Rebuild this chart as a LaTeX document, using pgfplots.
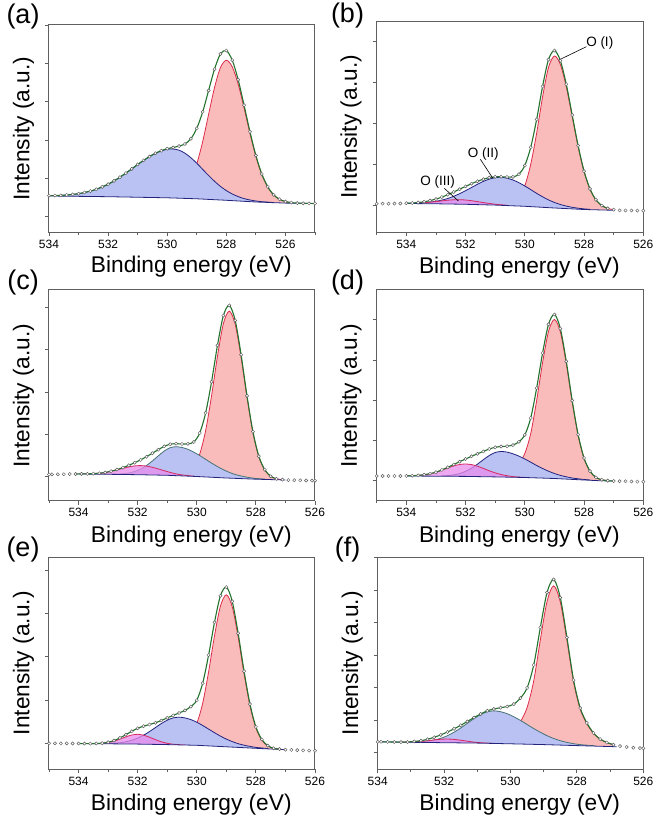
\documentclass[border=0pt]{standalone}
\usepackage{pgfplots}
\pgfplotsset{compat=1.18}
\usepackage{pgfplotstable}
\usepackage{fontspec}
\setmainfont{Liberation Sans}

\definecolor{rline}{RGB}{222,45,75}
\definecolor{rfill}{RGB}{250,187,187}
\definecolor{bfill}{RGB}{186,194,244}
\definecolor{bline}{RGB}{35,35,125}
\definecolor{tline}{RGB}{70,115,115}
\definecolor{pfill}{RGB}{232,140,235}
\definecolor{pline}{RGB}{215,40,95}
\definecolor{gline}{RGB}{35,115,45}
\definecolor{frame}{RGB}{95,95,95}

\pgfplotsset{
 xps/.style={
  scale only axis, axis on top, x dir=reverse, ymin=0,
  xtick={526,528,530,532,534}, minor xtick={525,527,529,531,533,535},
  xtick pos=left, ytick pos=left, tick align=outside,
  major tick length=4pt, minor tick length=2.5pt,
  yticklabels={},
  axis line style={draw=frame, line width=1pt},
  tick style={draw=frame, line width=0.8pt},
  tick label style={font=\fontsize{12}{12}\selectfont},
  /pgf/number format/assume math mode=true,
  xlabel={Binding energy (eV)}, ylabel={Intensity (a.u.)},
  label style={font=\fontsize{22.7}{24}\selectfont},
  xlabel style={at={(axis description cs:0.535,-0.167)}, anchor=center},
  ylabel style={at={(axis description cs:-0.096,0.5)}, anchor=center},
 },
 env/.style={smooth, draw=gline, line width=1.1pt},
 dat/.style={only marks, mark=*, mark size=1.6pt, mark options={draw=black!65, fill=white, line width=0.45pt}},
 rc/.style={smooth, draw=rline, fill=rfill, line width=0.8pt},
 bc/.style={smooth, draw=bline, fill=bfill, line width=0.8pt},
 tc/.style={smooth, draw=tline, fill=bfill, line width=0.8pt},
 pc/.style={smooth, draw=pline, fill=pfill, fill opacity=0.75, line width=0.8pt},
 wf/.style={fill=white, draw=none},
 bl/.style={draw=bline, line width=0.8pt},
}

% ---------------- panel (a) ----------------
\pgfplotstableread{
x y
534.0 36.6
533.8 36.7
533.6 36.9
533.4 37.3
533.2 37.9
533.0 38.6
532.8 39.8
532.6 41.2
532.4 43.0
532.2 45.4
532.0 48.1
531.8 51.4
531.6 55.1
531.4 59.2
531.2 63.4
531.0 67.8
530.8 71.9
530.6 75.7
530.4 79.0
530.2 81.6
530.0 83.6
529.8 84.8
529.6 86.2
529.4 88.3
529.2 93.5
529.0 104.0
528.8 120.4
528.6 141.8
528.4 163.1
528.2 178.3
528.0 181.7
527.8 172.1
527.6 152.6
527.4 127.1
527.2 100.5
527.0 76.8
526.8 58.3
526.6 45.6
526.4 37.5
526.2 33.0
526.0 30.7
525.8 29.7
525.6 29.2
525.4 29.0
525.2 28.9
525.0 28.8
}\TEa
\pgfplotstableread{
x y
530.0 35.1
529.8 35.8
529.6 38.2
529.4 43.1
529.2 52.6
529.0 68.4
528.8 90.7
528.6 117.9
528.4 144.7
528.2 164.7
528.0 172.0
527.8 165.5
527.6 148.2
527.4 124.4
527.2 98.8
527.0 75.8
526.8 57.8
526.6 45.3
526.4 37.4
526.2 33.0
526.0 30.7
525.8 29.7
}\TRa
\pgfplotstableread{
x y
534.0 36.6
533.8 36.7
533.6 36.9
533.4 37.3
533.2 37.9
533.0 38.6
532.8 39.8
532.6 41.2
532.4 43.0
532.2 45.4
532.0 48.1
531.8 51.4
531.6 55.1
531.4 59.2
531.2 63.4
531.0 67.8
530.8 71.9
530.6 75.7
530.4 79.0
530.2 81.4
530.0 83.0
529.8 83.3
529.6 82.1
529.4 79.1
529.2 74.6
529.0 69.1
528.8 62.9
528.6 56.8
528.4 51.0
528.2 45.9
528.0 41.7
527.8 38.3
527.6 35.7
527.4 33.7
527.2 32.3
527.0 31.3
526.8 30.6
526.6 30.2
526.4 29.7
}\TUa
\pgfplotstableread{
x y
534.0 36.3
533.0 35.95
532.0 35.6
531.0 35.05
530.0 34.5
529.5 34.0
529.0 33.5
528.5 32.75
528.0 32.0
527.5 31.15
527.0 30.3
526.5 29.75
526.0 29.2
525.0 28.8
}\TLa

% ---------------- panel (b) ----------------
\pgfplotstableread{
x y
535.0 28.5
534.8 28.6
534.6 28.6
534.4 28.7
534.2 28.8
534.0 29.1
533.8 29.3
533.6 29.8
533.4 30.5
533.2 31.7
533.0 33.2
532.8 35.2
532.6 37.6
532.4 40.3
532.2 43.1
532.0 45.9
531.8 48.6
531.6 51.0
531.4 53.1
531.2 54.7
531.0 55.5
530.8 55.5
530.6 55.3
530.4 55.4
530.2 58.1
530.0 66.8
529.8 85.0
529.6 112.9
529.4 145.9
529.2 172.7
529.0 181.8
528.8 171.6
528.6 148.0
528.4 117.3
528.2 86.6
528.0 61.2
527.8 43.4
527.6 32.5
527.4 26.7
527.2 23.9
527.0 22.6
526.8 21.9
526.6 21.8
526.4 21.8
526.2 21.7
526.0 21.6
}\TEb
\pgfplotstableread{
x y
530.6 27.6
530.4 29.5
530.2 34.7
530.0 46.5
529.8 68.0
529.6 99.3
529.4 135.4
529.2 164.9
529.0 176.3
528.8 167.8
528.6 145.5
528.4 115.7
528.2 85.6
528.0 60.6
527.8 43.1
527.6 32.5
527.4 26.7
527.2 23.9
527.0 22.6
}\TRb
\pgfplotstableread{
x y
534.0 29.0
533.8 29.0
533.6 29.3
533.4 29.6
533.2 30.2
533.0 31.0
532.8 32.2
532.6 33.8
532.4 36.0
532.2 38.6
532.0 41.6
531.8 44.8
531.6 48.0
531.4 50.9
531.2 53.2
531.0 54.6
530.8 55.0
530.6 54.1
530.4 52.3
530.2 49.6
530.0 46.3
529.8 42.7
529.6 38.9
529.4 35.5
529.2 32.4
529.0 29.8
528.8 27.8
528.6 26.2
528.4 25.0
528.2 24.1
528.0 23.4
527.8 22.9
}\TUb
\pgfplotstableread{
x y
533.8 29.0
533.6 29.2
533.4 29.5
533.2 30.1
533.0 30.7
532.8 31.4
532.6 32.1
532.4 32.5
532.2 32.6
532.0 32.3
531.8 31.6
531.6 30.7
531.4 29.7
531.2 28.9
531.0 28.1
530.8 27.5
530.6 27.0
}\TPb
\pgfplotstableread{
x y
535.0 28.5
534.0 28.8
533.0 28.5
532.0 28.0
531.0 27.2
530.0 26.0
529.0 24.3
528.0 22.8
527.0 22.0
526.0 21.6
}\TLb

% ---------------- panel (c) ----------------
\pgfplotstableread{
x y
535.0 26.5
534.9 26.6
534.7 26.7
534.5 26.8
534.3 26.9
534.1 27.0
533.9 27.1
533.7 27.1
533.5 27.4
533.3 27.8
533.1 28.5
532.9 29.8
532.7 31.4
532.5 33.4
532.3 35.7
532.1 38.3
531.9 41.1
531.7 44.3
531.5 47.8
531.3 51.3
531.1 54.7
530.9 56.8
530.7 57.3
530.5 57.0
530.3 57.2
530.1 59.0
529.9 68.0
529.7 88.1
529.5 119.2
529.3 155.6
529.1 185.4
528.9 195.6
528.7 180.6
528.5 146.2
528.3 105.1
528.1 69.3
527.9 44.8
527.7 31.3
527.5 24.7
527.3 22.2
527.1 21.4
526.9 20.9
526.7 20.8
526.5 20.7
526.3 20.5
526.1 20.4
526.0 20.3
}\TEc
\pgfplotstableread{
x y
530.9 26.1
530.7 26.5
530.5 27.6
530.3 29.9
530.1 34.6
529.9 46.9
529.7 70.5
529.5 105.1
529.3 144.7
529.1 177.3
528.9 189.9
528.7 176.7
528.5 143.6
528.3 103.5
528.1 68.3
527.9 44.2
527.7 31.0
527.5 24.7
527.3 22.2
527.1 21.4
}\TRc
\pgfplotstableread{
x y
532.9 26.8
532.7 26.9
532.5 27.3
532.3 28.0
532.1 29.5
531.9 31.9
531.7 35.5
531.5 40.1
531.3 45.2
531.1 50.0
530.9 53.3
530.7 54.3
530.5 53.5
530.3 51.7
530.1 48.8
529.9 45.5
529.7 41.7
529.5 37.9
529.3 34.4
529.1 31.3
528.9 28.6
528.7 26.5
528.5 25.0
528.3 23.8
528.1 22.9
527.9 22.3
527.7 21.9
}\TUc
\pgfplotstableread{
x y
533.9 27.1
533.7 27.1
533.5 27.4
533.3 27.8
533.1 28.5
532.9 29.7
532.7 31.1
532.5 32.6
532.3 34.1
532.1 35.1
531.9 35.4
531.7 34.9
531.5 33.7
531.3 32.0
531.1 30.3
530.9 28.6
530.7 27.1
530.5 26.1
530.3 25.4
530.1 24.8
}\TPc
\pgfplotstableread{
x y
535.0 26.5
534.0 27.0
533.0 26.7
532.0 26.3
531.0 25.7
530.0 24.5
529.0 23.0
528.0 21.8
527.0 21.0
526.0 20.3
}\TLc

% ---------------- panel (d) ----------------
\pgfplotstableread{
x y
535.0 25.0
534.8 25.0
534.6 25.0
534.4 25.0
534.2 25.0
534.0 25.1
533.8 25.3
533.6 25.6
533.4 26.3
533.2 27.3
533.0 28.8
532.8 31.1
532.6 33.7
532.4 36.5
532.2 39.3
532.0 42.0
531.8 44.7
531.6 47.2
531.4 49.6
531.2 52.0
531.0 53.7
530.8 54.5
530.6 54.8
530.4 55.9
530.2 59.2
530.0 66.1
529.8 83.0
529.6 112.9
529.4 147.9
529.2 176.6
529.0 186.5
528.8 172.4
528.6 139.6
528.4 100.4
528.2 66.4
528.0 43.0
527.8 29.9
527.6 23.6
527.4 21.2
527.2 20.4
527.0 19.9
526.8 19.8
526.6 19.7
526.4 19.5
526.2 19.4
526.0 19.3
}\TEd
\pgfplotstableread{
x y
530.4 31.7
530.2 37.6
530.0 47.5
529.8 67.5
529.6 100.5
529.4 138.3
529.2 169.5
529.0 181.5
528.8 169.0
528.6 137.3
528.4 99.0
528.2 65.5
528.0 42.5
527.8 29.6
527.6 23.6
527.4 21.2
527.2 20.4
}\TRd
\pgfplotstableread{
x y
532.8 25.1
532.6 25.4
532.4 26.1
532.2 27.4
532.0 29.6
531.8 32.8
531.6 36.8
531.4 41.3
531.2 45.5
531.0 48.5
530.8 49.5
530.6 48.9
530.4 47.2
530.2 44.9
530.0 42.0
529.8 38.8
529.6 35.5
529.4 32.5
529.2 29.8
529.0 27.5
528.8 25.6
528.6 24.2
528.4 23.0
528.2 22.2
528.0 21.5
527.8 21.0
}\TUd
\pgfplotstableread{
x y
534.0 25.1
533.8 25.3
533.6 25.6
533.4 26.3
533.2 27.3
533.0 28.8
532.8 30.8
532.6 33.0
532.4 35.1
532.2 36.5
532.0 37.0
531.8 36.4
531.6 34.8
531.4 32.6
531.2 30.2
531.0 28.1
530.8 26.5
530.6 25.3
530.4 24.4
530.2 23.9
530.0 23.6
}\TPd
\pgfplotstableread{
x y
535.0 25.0
534.0 25.0
532.0 24.6
531.0 24.1
530.0 23.5
529.0 22.5
528.0 21.0
527.5 20.3
527.0 19.9
526.0 19.3
}\TLd

% ---------------- panel (e) ----------------
\pgfplotstableread{
x y
535.0 26.0
534.8 26.0
534.6 25.9
534.4 25.9
534.2 25.8
534.0 25.8
533.8 25.7
533.6 25.7
533.4 25.8
533.2 26.1
533.0 27.1
532.8 28.7
532.6 31.4
532.4 34.6
532.2 38.0
532.0 41.0
531.8 43.1
531.6 44.8
531.4 46.5
531.2 48.8
531.0 51.4
530.8 53.9
530.6 56.3
530.4 58.9
530.2 62.7
530.0 69.1
529.8 86.1
529.6 114.2
529.4 147.0
529.2 173.5
529.0 182.2
528.8 168.0
528.6 136.0
528.4 98.1
528.2 65.2
528.0 42.4
527.8 29.8
527.6 23.7
527.4 21.0
527.2 20.2
527.0 19.6
526.8 19.4
526.6 19.2
526.4 18.9
526.2 18.7
526.0 18.5
}\TEe
\pgfplotstableread{
x y
530.4 31.8
530.2 37.1
530.0 46.0
529.8 66.0
529.6 97.4
529.4 133.5
529.2 163.1
529.0 174.5
528.8 162.5
528.6 132.3
528.4 95.6
528.2 63.6
528.0 41.5
527.8 29.2
527.6 23.4
527.4 21.0
527.2 20.2
}\TRe
\pgfplotstableread{
x y
533.0 25.8
532.8 26.0
532.6 26.6
532.4 27.5
532.2 29.0
532.0 31.2
531.8 34.1
531.6 37.7
531.4 41.7
531.2 45.7
531.0 49.1
530.8 51.4
530.6 52.1
530.4 51.4
530.2 49.7
530.0 47.1
529.8 43.8
529.6 40.2
529.4 36.6
529.2 33.2
529.0 30.2
528.8 27.7
528.6 25.6
528.4 24.1
528.2 22.9
528.0 21.9
527.8 21.3
527.6 20.7
}\TUe
\pgfplotstableread{
x y
533.6 25.7
533.4 25.8
533.2 26.1
533.0 26.8
532.8 28.1
532.6 30.2
532.4 32.4
532.2 34.3
532.0 35.0
531.8 34.1
531.6 32.1
531.4 29.7
531.2 27.5
531.0 26.0
530.8 25.1
530.6 24.6
530.4 24.3
}\TPe
\pgfplotstableread{
x y
535.0 26.0
534.0 25.8
533.0 25.5
532.0 25.2
531.0 24.7
530.0 24.0
529.0 22.5
528.0 21.0
527.0 19.6
526.0 18.5
}\TLe

% ---------------- panel (f) ----------------
\pgfplotstableread{
x y
534.0 27.5
533.9 27.5
533.7 27.4
533.5 27.3
533.3 27.2
533.1 27.3
532.9 27.9
532.7 28.6
532.5 30.0
532.3 32.0
532.1 34.4
531.9 37.3
531.7 40.5
531.5 44.0
531.3 47.8
531.1 51.7
530.9 55.3
530.7 58.5
530.5 60.3
530.3 61.6
530.1 62.8
529.9 65.2
529.7 71.2
529.5 81.4
529.3 104.3
529.1 141.9
528.9 176.7
528.7 189.8
528.5 171.7
528.3 131.8
528.1 89.2
527.9 61.3
527.7 46.4
527.5 36.3
527.3 30.2
527.1 26.8
526.9 24.6
526.7 23.2
526.5 22.3
526.3 21.6
526.1 21.2
526.0 21.0
}\TEf
\pgfplotstableread{
x y
530.1 32.8
529.9 38.1
529.7 47.6
529.5 61.7
529.3 88.5
529.1 129.7
528.9 167.7
528.7 183.4
528.5 167.3
528.3 128.9
528.1 87.4
527.9 60.2
527.7 45.7
527.5 35.9
527.3 30.2
527.1 26.8
526.9 24.6
}\TRf
\pgfplotstableread{
x y
532.9 27.4
532.7 27.6
532.5 28.2
532.3 29.3
532.1 31.0
531.9 33.6
531.7 37.1
531.5 41.3
531.3 46.0
531.1 50.7
530.9 54.8
530.7 57.5
530.5 58.4
530.3 57.6
530.1 55.6
529.9 52.5
529.7 48.9
529.5 44.8
529.3 40.7
529.1 37.0
528.9 33.6
528.7 30.8
528.5 28.6
528.3 26.9
528.1 25.6
527.9 24.7
527.7 24.1
527.5 23.6
}\TUf
\pgfplotstableread{
x y
533.3 27.2
533.1 27.3
532.9 27.5
532.7 27.9
532.5 28.6
532.3 29.4
532.1 30.0
531.9 30.3
531.7 29.9
531.5 29.1
531.3 28.1
531.1 27.2
530.9 26.6
530.7 26.2
530.5 25.9
}\TPf
\pgfplotstableread{
x y
534.0 27.5
533.0 27.0
532.0 26.6
531.0 26.2
530.0 25.5
529.0 24.7
528.0 23.7
527.0 22.75
526.8 22.55
526.0 21.0
}\TLf

\begin{document}
\begin{tikzpicture}[x=1pt,y=1pt]
\path[use as bounding box] (0,0) rectangle (662,822);

% (a)
\begin{axis}[xps, at={(49pt,589.7pt)}, anchor=south west, width=266pt, height=207.3pt,
  xmin=525, xmax=534, ymax=207.3, ytick={15.7,54,92.3,130.7,169,207.3}]
\addplot[rc] table {\TRa} \closedcycle;
\addplot[bc] table {\TUa} \closedcycle;
\addplot[wf] table {\TLa} \closedcycle;
\addplot[bl] table {\TLa};
\addplot[env] table {\TEa};
\addplot[dat] table {\TEa};
\end{axis}

% (b)
\begin{axis}[xps, at={(376.7pt,589.7pt)}, anchor=south west, width=266.6pt, height=210.6pt,
  xmin=526, xmax=535, ymax=210.6, ytick={26.6,67.6,108.6,149.6,190.6}]
\addplot[rc] table {\TRb} \closedcycle;
\addplot[bc] table {\TUb} \closedcycle;
\addplot[pc] table {\TPb} \closedcycle;
\addplot[wf] table {\TLb} \closedcycle;
\addplot[bl, restrict x to domain=527:534] table {\TLb};
\addplot[env, restrict x to domain=527.2:534] table {\TEb};
\addplot[dat] table {\TEb};
\node[font=\fontsize{13.5}{14}\selectfont] at (axis cs:527.47,189.6) {O (I)};
\draw[black, line width=0.6pt] (axis cs:527.92,185.6) -- (axis cs:528.85,172.3);
\node[font=\fontsize{13.5}{14}\selectfont] at (axis cs:531.4,78.3) {O (II)};
\draw[black, line width=0.6pt] (axis cs:531.5,73) -- (axis cs:531.08,54);
\node[font=\fontsize{13.5}{14}\selectfont] at (axis cs:532.94,50) {O (III)};
\draw[black, line width=0.6pt] (axis cs:532.72,44) -- (axis cs:532.24,31.3);
\end{axis}

% (c)
\begin{axis}[xps, at={(49pt,321pt)}, anchor=south west, width=266pt, height=211pt,
  xmin=526, xmax=535, ymax=211, ytick={24.3,66.7,109,151.3,193.7}]
\addplot[rc] table {\TRc} \closedcycle;
\addplot[tc] table {\TUc} \closedcycle;
\addplot[pc] table {\TPc} \closedcycle;
\addplot[wf] table {\TLc} \closedcycle;
\addplot[bl, restrict x to domain=527:534] table {\TLc};
\addplot[env, restrict x to domain=527.3:534.1] table {\TEc};
\addplot[dat] table {\TEc};
\end{axis}

% (d)
\begin{axis}[xps, at={(376.7pt,321pt)}, anchor=south west, width=266.6pt, height=211pt,
  xmin=526, xmax=535, ymax=211, ytick={20.3,60.5,100.8,141,181.3}]
\addplot[rc] table {\TRd} \closedcycle;
\addplot[bc] table {\TUd} \closedcycle;
\addplot[pc] table {\TPd} \closedcycle;
\addplot[wf] table {\TLd} \closedcycle;
\addplot[bl, restrict x to domain=527:534] table {\TLd};
\addplot[env, restrict x to domain=527:534] table {\TEd};
\addplot[dat] table {\TEd};
\end{axis}

% (e)
\begin{axis}[xps, at={(49pt,52.7pt)}, anchor=south west, width=266pt, height=212pt,
  xmin=526, xmax=535, ymax=212, ytick={26,69.3,112.7,156,199.3}]
\addplot[rc] table {\TRe} \closedcycle;
\addplot[bc] table {\TUe} \closedcycle;
\addplot[pc] table {\TPe} \closedcycle;
\addplot[wf] table {\TLe} \closedcycle;
\addplot[bl, restrict x to domain=527:534] table {\TLe};
\addplot[env, restrict x to domain=527.2:534] table {\TEe};
\addplot[dat] table {\TEe};
\end{axis}

% (f)
\begin{axis}[xps, at={(377.7pt,52.7pt)}, anchor=south west, width=265.6pt, height=212pt,
  xmin=526, xmax=534, ymax=212, ytick={17,49.3,81.7,114.3,146.7,179.3,211.7}]
\addplot[rc] table {\TRf} \closedcycle;
\addplot[tc] table {\TUf} \closedcycle;
\addplot[pc] table {\TPf} \closedcycle;
\addplot[wf] table {\TLf} \closedcycle;
\addplot[bl, restrict x to domain=526.8:534] table {\TLf};
\addplot[env, restrict x to domain=526.9:533.9] table {\TEf};
\addplot[dat] table {\TEf};
\end{axis}

\node[font=\fontsize{27}{27}\selectfont] at (23,805.5) {(a)};
\node[font=\fontsize{27}{27}\selectfont] at (347.5,806) {(b)};
\node[font=\fontsize{27}{27}\selectfont] at (23,539) {(c)};
\node[font=\fontsize{27}{27}\selectfont] at (347.5,539) {(d)};
\node[font=\fontsize{27}{27}\selectfont] at (23,272) {(e)};
\node[font=\fontsize{27}{27}\selectfont] at (347.5,272) {(f)};
\end{tikzpicture}
\end{document}
